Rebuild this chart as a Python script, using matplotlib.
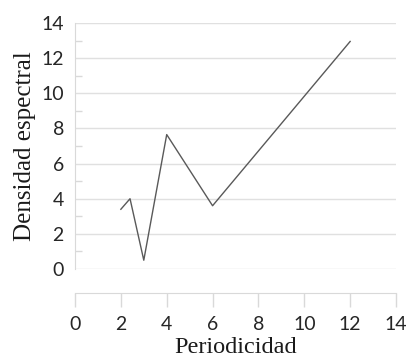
import matplotlib
matplotlib.use("Agg")
import matplotlib.pyplot as plt
from matplotlib.ticker import MultipleLocator

# Spectral density by periodicity
periodicidad = [2, 2.4, 3, 4, 6, 12]
densidad = [3.4, 4.0, 0.5, 7.65, 3.6, 12.95]

x_ticks = [0, 2, 4, 6, 8, 10, 12, 14]
y_ticks = [0, 2, 4, 6, 8, 10, 12, 14]

W, H = 412, 359
fig = plt.figure(figsize=(W / 100, H / 100), dpi=100)
ax = fig.add_axes([75 / W, 1 - 269 / H, (396 - 75) / W, (269 - 23) / H])

ax.plot(periodicidad, densidad, color="#595959", lw=1.0)

ax.set_xlim(0, 14)
ax.set_ylim(0, 14)
ax.set_xticks(x_ticks)
ax.set_yticks(y_ticks)
ax.yaxis.set_minor_locator(MultipleLocator(1))

ax.grid(axis="y", color="#e0e0e0", lw=1.0)
ax.set_axisbelow(True)

for s in ("top", "right"):
    ax.spines[s].set_visible(False)
ax.spines["left"].set_color("#d9d9d9")
ax.spines["bottom"].set_color("#d9d9d9")
ax.spines["bottom"].set_position(("outward", 17))

tick_font = "Lato"
ax.tick_params(axis="y", which="major", length=0, pad=8, labelsize=14,
               labelcolor="#262626")
ax.tick_params(axis="y", which="minor", direction="in", length=5,
               color="#d9d9d9", width=1)
ax.tick_params(axis="x", which="major", direction="out", length=10,
               color="#d9d9d9", width=1, pad=7, labelsize=14,
               labelcolor="#262626")
for lab in ax.get_xticklabels() + ax.get_yticklabels():
    lab.set_fontfamily(tick_font)

ax.set_xlabel("Periodicidad", family="Liberation Serif", fontsize=17.5,
              color="#1a1a1a", labelpad=3)
ax.set_ylabel("Densidad espectral", family="Liberation Serif", fontsize=18,
              color="#1a1a1a", labelpad=4)

fig.savefig("out.png", dpi=100)
